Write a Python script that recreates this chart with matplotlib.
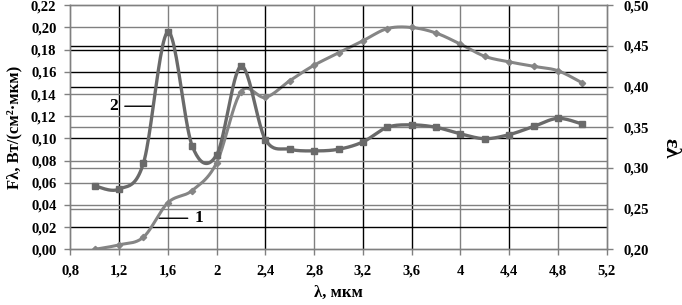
import numpy as np
import matplotlib
matplotlib.use("Agg")
import matplotlib.pyplot as plt
from matplotlib.ticker import FuncFormatter

plt.rcParams['font.family'] = ['Liberation Serif', 'DejaVu Serif']
plt.rcParams['font.weight'] = 'bold'

# wavelength, um
lam = [1.0, 1.2, 1.4, 1.6, 1.8, 2.0, 2.2, 2.4, 2.6, 2.8, 3.0,
       3.2, 3.4, 3.6, 3.8, 4.0, 4.2, 4.4, 4.6, 4.8, 5.0]
# curve 1: F_lambda, W/(cm2*um), left axis
flux = [0.000, 0.004, 0.011, 0.042, 0.053, 0.078, 0.142, 0.137, 0.152, 0.166, 0.177,
        0.188, 0.199, 0.200, 0.195, 0.185, 0.174, 0.169, 0.165, 0.161, 0.150]
# curve 2: emissivity, right axis
eps = [0.278, 0.274, 0.306, 0.467, 0.327, 0.316, 0.425, 0.335, 0.323, 0.321, 0.323,
       0.332, 0.350, 0.353, 0.350, 0.342, 0.336, 0.341, 0.351, 0.361, 0.354]

x_ticks = np.arange(0.8, 5.21, 0.4)
f_ticks = np.arange(0.0, 0.221, 0.02)
e_ticks = np.arange(0.20, 0.501, 0.05)


def smooth(x, y, n=24):
    # Catmull-Rom curve through the points (like a smoothed Excel line)
    p = np.column_stack([x, y]).astype(float)
    p = np.vstack([p[0], p, p[-1]])
    out = []
    t = np.linspace(0, 1, n)[:, None]
    for i in range(1, len(p) - 2):
        p0, p1, p2, p3 = p[i - 1], p[i], p[i + 1], p[i + 2]
        seg = 0.5 * ((2 * p1) + (-p0 + p2) * t + (2 * p0 - 5 * p1 + 4 * p2 - p3) * t ** 2
                     + (-p0 + 3 * p1 - 3 * p2 + p3) * t ** 3)
        out.append(seg)
    out = np.vstack(out)
    return out[:, 0], out[:, 1]


comma = FuncFormatter(lambda v, pos: f"{v:.2f}".replace(".", ","))
comma_x = FuncFormatter(lambda v, pos: f"{v:g}".replace(".", ","))

fig = plt.figure(figsize=(6.82, 3.05), dpi=100)
ax = fig.add_axes([0.1031, 0.1826, 0.7865, 0.8])
ax2 = ax.twinx()

grey = '#808080'
dark = '#000000'
# grid lines (colours as they appear in the original)
vcol = {1.2: dark, 1.6: grey, 2.0: grey, 2.4: dark, 2.8: grey, 3.2: dark,
        3.6: dark, 4.0: grey, 4.4: dark, 4.8: grey}
for v, c in vcol.items():
    ax.axvline(v, color=c, lw=1.0, zorder=1)
hcol = {0.02: dark, 0.04: grey, 0.06: grey, 0.08: grey, 0.10: dark, 0.12: grey,
        0.14: grey, 0.16: dark, 0.18: dark, 0.20: grey}
for v, c in hcol.items():
    ax.axhline(v, color=c, lw=1.0, zorder=1)
ecol = {0.25: grey, 0.30: grey, 0.35: grey, 0.40: dark, 0.45: dark}
for v, c in ecol.items():
    ax2.axhline(v, color=c, lw=1.0, zorder=1)

ax.set_xlim(0.8, 5.2)
ax.set_ylim(0, 0.22)
ax2.set_ylim(0.20, 0.50)

sx, sy = smooth(lam, flux)
ax.plot(sx, sy, color='#858585', lw=2.2, zorder=3)
ax.plot(lam, flux, ls='none', marker='D', ms=3.2, color='#858585', zorder=4)

sx, sy = smooth(lam, eps)
ax2.plot(sx, sy, color='#6a6a6a', lw=2.4, zorder=3)
ax2.plot(lam, eps, ls='none', marker='s', ms=4, color='#6a6a6a', zorder=4)

ax.set_xticks(x_ticks)
ax.set_yticks(f_ticks)
ax2.set_yticks(e_ticks)
ax.xaxis.set_major_formatter(comma_x)
ax.yaxis.set_major_formatter(comma)
ax2.yaxis.set_major_formatter(comma)

for a in (ax, ax2):
    for s in a.spines.values():
        s.set_color(grey)
        s.set_linewidth(1.0)
    a.tick_params(colors=grey, labelcolor='black', labelsize=10.5, length=4, width=1)
ax.tick_params(axis='x', pad=7)
ax.tick_params(axis='y', pad=6)
ax2.tick_params(axis='y', pad=8)

ax.set_xlabel("λ, мкм", fontsize=12, fontweight='bold', labelpad=5)
ax.set_ylabel("Fλ, Вт/(см²·мкм)", fontsize=12, fontweight='bold', labelpad=6)
fig.text(0.983, 0.515, "ελ", fontsize=16, fontweight='bold', rotation=270,
         ha='center', va='center')

# curve labels
ax.annotate("2", xy=(1.48, 0.129), xytext=(1.19, 0.129), fontsize=12.5, fontweight='bold',
            va='center', ha='right',
            arrowprops=dict(arrowstyle='-', color='black', lw=1.0, shrinkA=3, shrinkB=0))
ax.annotate("1", xy=(1.53, 0.028), xytext=(1.82, 0.028), fontsize=12.5, fontweight='bold',
            va='center', ha='left',
            arrowprops=dict(arrowstyle='-', color='black', lw=1.0, shrinkA=3, shrinkB=0))

fig.savefig("out.png", dpi=100)
